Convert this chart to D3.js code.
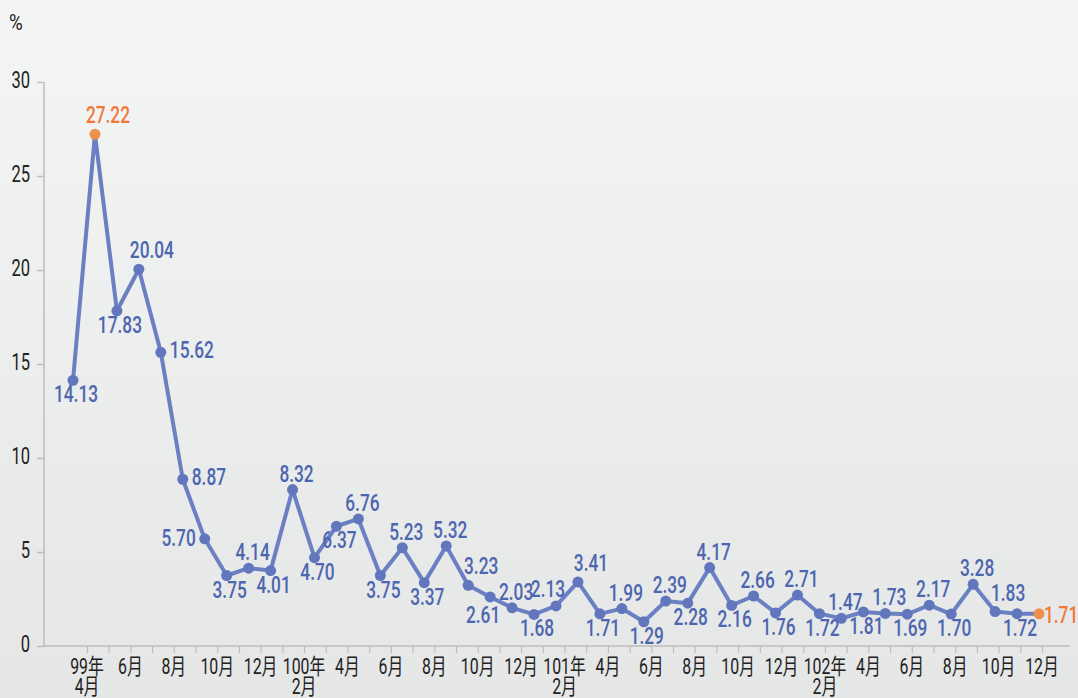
<!DOCTYPE html>
<html>
<head>
<meta charset="utf-8">
<script src="https://cdn.jsdelivr.net/npm/d3@7"></script>
<style>
	html,body{margin:0;padding:0;}
	body{width:1078px;height:698px;overflow:hidden;background:linear-gradient(#f4f5f5,#e5e6e6);}
	svg{display:block;}
	text{font-family:Roboto,"Noto Sans CJK TC",sans-serif;}
</style>
</head>
<body>
<svg width="1078" height="698"></svg>
<script>
(()=>{
	//data
	let months = ["99/4","99/5","99/6","99/7","99/8","99/9","99/10","99/11","99/12",
		"100/1","100/2","100/3","100/4","100/5","100/6","100/7","100/8","100/9","100/10","100/11","100/12",
		"101/1","101/2","101/3","101/4","101/5","101/6","101/7","101/8","101/9","101/10","101/11","101/12",
		"102/1","102/2","102/3","102/4","102/5","102/6","102/7","102/8","102/9","102/10","102/11","102/12"];
	let values = [14.13,27.22,17.83,20.04,15.62,8.87,5.70,3.75,4.14,
		4.01,8.32,4.70,6.37,6.76,3.75,5.23,3.37,5.32,3.23,2.61,2.03,
		1.68,2.13,3.41,1.71,1.99,1.29,2.39,2.28,4.17,2.16,2.66,1.76,
		2.71,1.72,1.47,1.81,1.73,1.69,2.17,1.70,3.28,1.83,1.72,1.71];
	let tickLabels = ["99年|4月","","6月","","8月","","10月","","12月",
		"","100年|2月","","4月","","6月","","8月","","10月","","12月",
		"","101年|2月","","4月","","6月","","8月","","10月","","12月",
		"","102年|2月","","4月","","6月","","8月","","10月","","12月"];
	let yTicks = [0,5,10,15,20,25,30];
	let highlight = [1,44]; //peak and latest month in orange

	//where each value label sits around its point
	let labelSide = ["b","T","b","T","r","r","l","b","t",
		"b","t","b","b","t","b","t","b","t","T","bl","t",
		"b","tl","T","b","t","b","t","b","t","b","t","b",
		"t","b","t","b","t","b","t","b","t","T","b","R"];
	let place = {
		t:[4,-8,"middle"], T:[13,-11,"middle"], b:[3,22,"middle"],
		bl:[-7,26,"middle"], tl:[-8,-9,"middle"], r:[9,6,"start"], R:[5,9,"start"], l:[-9,7,"end"]
	};

	let svg = d3.select("svg");
	let sx = 0.72; //narrow type

	let x = d3.scalePoint().domain(months).range([73,1039]);
	let xl = d3.scalePoint().domain(months).range([87,1042]);
	let y = d3.scaleLinear().domain([0,30]).range([646,82]);

	//y axis
	let gy = svg.append("g")
		.attr("transform","translate(44,0)")
		.call(d3.axisLeft(y).tickValues(yTicks).tickSize(7).tickSizeOuter(0));
	gy.select(".domain").remove();
	gy.selectAll(".tick line").attr("stroke","#bdbdbd").attr("stroke-width",1.5);
	gy.selectAll(".tick text")
		.attr("x",0).attr("dy","0.25em")
		.attr("transform","translate(-14,0) scale("+sx+",1)")
		.attr("font-size",23).attr("fill","#222");
	svg.append("line")
		.attr("x1",44).attr("x2",44).attr("y1",y(30)).attr("y2",y(0))
		.attr("stroke","#bdbdbd").attr("stroke-width",1.5);

	//x axis
	let gx = svg.append("g")
		.attr("transform","translate(0,"+y(0)+")")
		.call(d3.axisBottom(xl).tickSize(7).tickSizeOuter(0).tickFormat(""));
	gx.select(".domain").remove();
	gx.selectAll(".tick line").attr("stroke","#bdbdbd").attr("stroke-width",1.2);
	svg.append("line")
		.attr("x1",44).attr("x2",1070).attr("y1",y(0)).attr("y2",y(0))
		.attr("stroke","#bdbdbd").attr("stroke-width",1.5);

	//month labels, second line for the year ticks
	let lbl = [];
	months.forEach((m,i)=>{
		if(!tickLabels[i]) return;
		tickLabels[i].split("|").forEach((t,k)=>lbl.push({m:m,t:t,k:k}));
	});
	svg.append("g").selectAll("text")
		.data(lbl).enter().append("text")
		.attr("transform",d=>"translate("+xl(d.m)+","+(674+d.k*20)+") scale("+sx+",1)")
		.attr("text-anchor","middle").attr("font-size",22).attr("fill","#222")
		.text(d=>d.t);

	//unit
	svg.append("text")
		.attr("transform","translate(9,30) scale(0.85,1)")
		.attr("font-size",22).attr("fill","#222").text("%");

	//line
	let line = d3.line()
		.x((d,i)=>x(months[i]))
		.y(d=>y(d));
	svg.append("path")
		.datum(values)
		.attr("d",line)
		.attr("fill","none")
		.attr("stroke","#6b7fc3")
		.attr("stroke-width",4)
		.attr("stroke-linejoin","round");

	let pts = values.map((v,i)=>({v:v,i:i,m:months[i],hi:highlight.includes(i)}));

	svg.append("g").selectAll("circle")
		.data(pts).enter().append("circle")
		.attr("cx",d=>x(d.m))
		.attr("cy",d=>y(d.v))
		.attr("r",5.5)
		.attr("fill",d=>d.hi ? "#ee914f" : "#6176bd");

	//value labels
	svg.append("g").selectAll("text")
		.data(pts).enter().append("text")
		.attr("transform",d=>{
			let p = place[labelSide[d.i]];
			return "translate("+(x(d.m)+p[0])+","+(y(d.v)+p[1])+") scale("+sx+",1)";
		})
		.attr("text-anchor",d=>place[labelSide[d.i]][2])
		.attr("font-size",24)
		.attr("font-weight",500)
		.attr("fill",d=>d.hi ? "#f2783a" : "#4c66b0")
		.text(d=>d.v.toFixed(2));
})();
</script>
</body>
</html>
